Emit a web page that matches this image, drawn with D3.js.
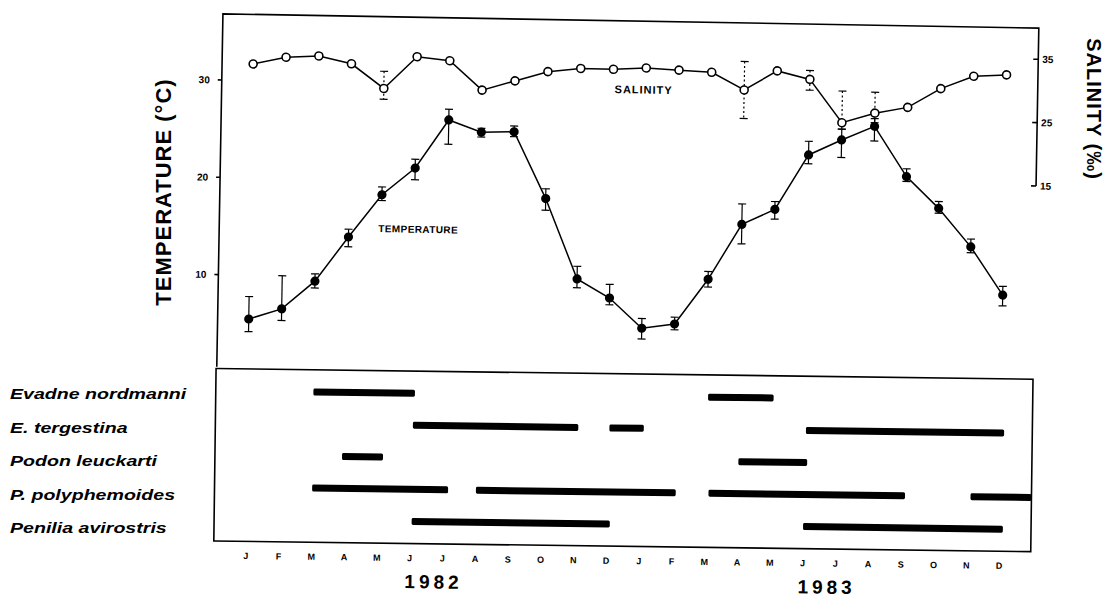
<!DOCTYPE html>
<meta charset="utf-8">
<style>
body { margin: 0; background: #fff; }
svg { font-family: "Liberation Sans", Arial, sans-serif; }
.frame { fill: none; stroke: #000; stroke-width: 1.6px; }
.series { fill: none; stroke: #000; stroke-width: 1.5px; }
.err { stroke: #000; stroke-width: 1.2px; }
.err.sal { stroke-dasharray: 2,2.5; }
.tick-label { font-size: 10px; font-weight: bold; }
.month { font-size: 9px; font-weight: bold; }
.year { font-size: 19px; font-weight: bold; letter-spacing: 4px; }
.species { font-size: 14px; font-weight: bold; font-style: italic; }
.axis-title { font-size: 22px; font-weight: bold; letter-spacing: 1px; }
</style>
<div id="chart"></div>
<script src="https://d3js.org/d3.v7.min.js"></script>
<script>
  var width = 1107, height = 600;

  // Jan 1982 .. Dec 1983
  var months = ["J","F","M","A","M","J","J","A","S","O","N","D",
                "J","F","M","A","M","J","J","A","S","O","N","D"];
  var years = ["1982", "1983"];

  var temperature = [5.5, 6.6, 9.5, 14.1, 18.5, 21.3, 26.3, 25.1, 25.2, 18.4, 10.2, 8.3,
                     5.25, 5.75, 10.4, 16.1, 17.7, 23.35, 24.95, 26.4, 21.3, 18.1, 14.2, 9.3];
  var tempErrUp = [2.3, 3.4, 0.75, 0.8, 0.8, 0.9, 1.1, 0.4, 0.6, 1.0, 1.3, 1.4,
                   1.0, 0.7, 0.8, 2.1, 0.8, 1.4, 1.1, 0.8, 0.8, 0.7, 0.8, 0.9];
  var tempErrDown = [1.3, 1.2, 0.7, 1.0, 0.6, 1.2, 2.5, 0.5, 0.5, 1.2, 0.9, 0.7,
                     1.1, 0.6, 0.8, 2.0, 1.0, 0.9, 1.8, 1.5, 0.5, 0.5, 0.6, 1.1];

  var salinity = [32.1, 33.25, 33.55, 32.4, 28.6, 33.7, 33.15, 28.6, 30.15, 31.7, 32.3, 32.25,
                  32.55, 32.3, 32.05, 29.35, 32.45, 31.2, 24.45, 26.05, 27.05, 30.1, 32.15, 32.45];
  var salErrUp = [0, 0, 0, 0, 2.7, 0, 0, 0, 0, 0, 0, 0,
                  0, 0, 0, 4.5, 0, 1.4, 5.0, 3.3, 0, 0, 0, 0];
  var salErrDown = [0, 0, 0, 0, 1.7, 0, 0, 0, 0, 0, 0, 0,
                    0, 0, 0, 4.5, 0, 1.7, 1.0, 1.5, 0, 0, 0, 0];

  var tempTicks = [10, 20, 30];
  var salTicks = [15, 25, 35];

  var species = ["Evadne nordmanni", "E. tergestina", "Podon leuckarti",
                 "P. polyphemoides", "Penilia avirostris"];
  // periods of occurrence, in months from the start of Jan 1982 (0 = J 1982)
  var occurrence = [
    [[2.0, 5.1], [14.05, 16.05]],
    [[5.05, 10.1], [11.05, 12.1], [17.05, 23.1]],
    [[2.9, 4.15], [15.0, 17.1]],
    [[2.0, 6.15], [7.0, 13.1], [14.1, 20.1], [22.1, 23.96]],
    [[5.05, 11.1], [17.0, 23.1]]
  ];

  var left = 218, right = 1034;
  var topY = 20.5, midY = 373.5, bottomY = 546;

  var x = d3.scaleLinear().domain([-0.95, 23.96]).range([left, right]);
  var yT = d3.scaleLinear().domain([10, 30]).range([281.3, 86.6]);
  var yS = d3.scaleLinear().domain([15, 35]).range([178.4, 51.7]);
  var row = d3.scalePoint().domain(species).range([395.7, 523.9]);
  var labelRow = d3.scalePoint().domain(species).range([394.5, 528]);

  var svg = d3.select("#chart").append("svg")
      .attr("width", width)
      .attr("height", height);

  // the scanned figure sits slightly askew
  var upper = svg.append("g").attr("transform", "rotate(1,600,300)");
  var lower = svg.append("g").attr("transform", "rotate(0.75,600,300)");

  // ---- upper panel frame ----
  upper.append("path").attr("class", "frame")
      .attr("d", "M" + right + "," + yS(15) + "V" + topY + "H" + left + "V" + midY);

  upper.selectAll(".ltick").data(tempTicks).enter().append("line")
      .attr("class", "frame")
      .attr("x1", left - 4).attr("x2", left)
      .attr("y1", function(d) { return yT(d); })
      .attr("y2", function(d) { return yT(d); });
  upper.selectAll(".llab").data(tempTicks).enter().append("text")
      .attr("class", "tick-label")
      .attr("x", left - 12)
      .attr("y", function(d) { return yT(d); })
      .attr("dy", "0.35em")
      .attr("text-anchor", "end")
      .text(function(d) { return d; });

  upper.selectAll(".rtick").data(salTicks).enter().append("line")
      .attr("class", "frame")
      .attr("x1", right - 5).attr("x2", right)
      .attr("y1", function(d) { return yS(d); })
      .attr("y2", function(d) { return yS(d); });
  upper.selectAll(".rlab").data(salTicks).enter().append("text")
      .attr("class", "tick-label")
      .attr("x", right + 4)
      .attr("y", function(d) { return yS(d); })
      .attr("dy", "0.35em")
      .text(function(d) { return d; });

  // ---- salinity ----
  var salLine = d3.line()
      .x(function(d, i) { return x(i); })
      .y(function(d) { return yS(d); });
  upper.append("path").attr("class", "series").attr("d", salLine(salinity));

  salinity.forEach(function(v, i) {
    if (!salErrUp[i] && !salErrDown[i]) return;
    var y1 = yS(v + salErrUp[i]), y2 = yS(v - salErrDown[i]), cx = x(i);
    upper.append("line").attr("class", "err sal")
        .attr("x1", cx).attr("x2", cx).attr("y1", y1).attr("y2", y2);
    upper.append("line").attr("class", "err")
        .attr("x1", cx - 4).attr("x2", cx + 4).attr("y1", y1).attr("y2", y1);
    upper.append("line").attr("class", "err")
        .attr("x1", cx - 4).attr("x2", cx + 4).attr("y1", y2).attr("y2", y2);
  });

  // ---- temperature ----
  var tempLine = d3.line()
      .x(function(d, i) { return x(i); })
      .y(function(d) { return yT(d); });
  upper.append("path").attr("class", "series").attr("d", tempLine(temperature));

  temperature.forEach(function(v, i) {
    var y1 = yT(v + tempErrUp[i]), y2 = yT(v - tempErrDown[i]), cx = x(i);
    upper.append("line").attr("class", "err")
        .attr("x1", cx).attr("x2", cx).attr("y1", y1).attr("y2", y2);
    upper.append("line").attr("class", "err")
        .attr("x1", cx - 4).attr("x2", cx + 4).attr("y1", y1).attr("y2", y1);
    upper.append("line").attr("class", "err")
        .attr("x1", cx - 4).attr("x2", cx + 4).attr("y1", y2).attr("y2", y2);
  });

  upper.selectAll(".sdot").data(salinity).enter().append("circle")
      .attr("cx", function(d, i) { return x(i); })
      .attr("cy", function(d) { return yS(d); })
      .attr("r", 4)
      .attr("fill", "#fff")
      .attr("stroke", "#000")
      .attr("stroke-width", 1.6);

  upper.selectAll(".tdot").data(temperature).enter().append("circle")
      .attr("cx", function(d, i) { return x(i); })
      .attr("cy", function(d) { return yT(d); })
      .attr("r", 4.6)
      .attr("fill", "#000");

  upper.append("text")
      .attr("x", 640).attr("y", 89).attr("dy", "0.35em")
      .attr("text-anchor", "middle")
      .style("font-size", "11px").style("font-weight", "bold").style("letter-spacing", "1px")
      .text("SALINITY");
  upper.append("text")
      .attr("x", 417).attr("y", 232.5).attr("dy", "0.35em")
      .attr("text-anchor", "middle")
      .style("font-size", "10px").style("font-weight", "bold").style("letter-spacing", "0.4px")
      .text("TEMPERATURE");

  // ---- lower panel ----
  lower.append("rect").attr("class", "frame")
      .attr("x", 217).attr("y", midY)
      .attr("width", right - 217).attr("height", bottomY - midY);

  occurrence.forEach(function(spans, k) {
    lower.selectAll(".bar" + k).data(spans).enter().append("rect")
        .attr("x", function(d) { return x(d[0]); })
        .attr("width", function(d) { return x(d[1]) - x(d[0]); })
        .attr("y", row(species[k]) - 3.5)
        .attr("height", 7)
        .attr("rx", 1.5)
        .attr("fill", "#000");
  });

  lower.selectAll(".month").data(months).enter().append("text")
      .attr("class", "month")
      .attr("x", function(d, i) { return x(i); })
      .attr("y", 560.5)
      .attr("dy", "0.35em")
      .attr("text-anchor", "middle")
      .text(function(d) { return d; });

  lower.selectAll(".year").data(years).enter().append("text")
      .attr("class", "year")
      .attr("x", function(d, i) { return x(5.5 + 12 * i) + 8; })
      .attr("y", 584)
      .attr("dy", "0.35em")
      .attr("text-anchor", "middle")
      .text(function(d) { return d; });

  // ---- labels outside the frame ----
  svg.selectAll(".species").data(species).enter().append("text")
      .attr("class", "species")
      .attr("transform", function(d) { return "translate(10," + labelRow(d) + ") scale(1.4,1)"; })
      .attr("dy", "0.35em")
      .text(function(d) { return d; });

  svg.append("text").attr("class", "axis-title")
      .attr("transform", "translate(163,192) rotate(-90)")
      .attr("text-anchor", "middle")
      .attr("dy", "0.35em")
      .text("TEMPERATURE (°C)");

  svg.append("text").attr("class", "axis-title")
      .attr("transform", "translate(1094,109) rotate(90)")
      .attr("text-anchor", "middle")
      .attr("dy", "0.35em")
      .style("font-size", "20px")
      .text("SALINITY (‰)");
</script>
